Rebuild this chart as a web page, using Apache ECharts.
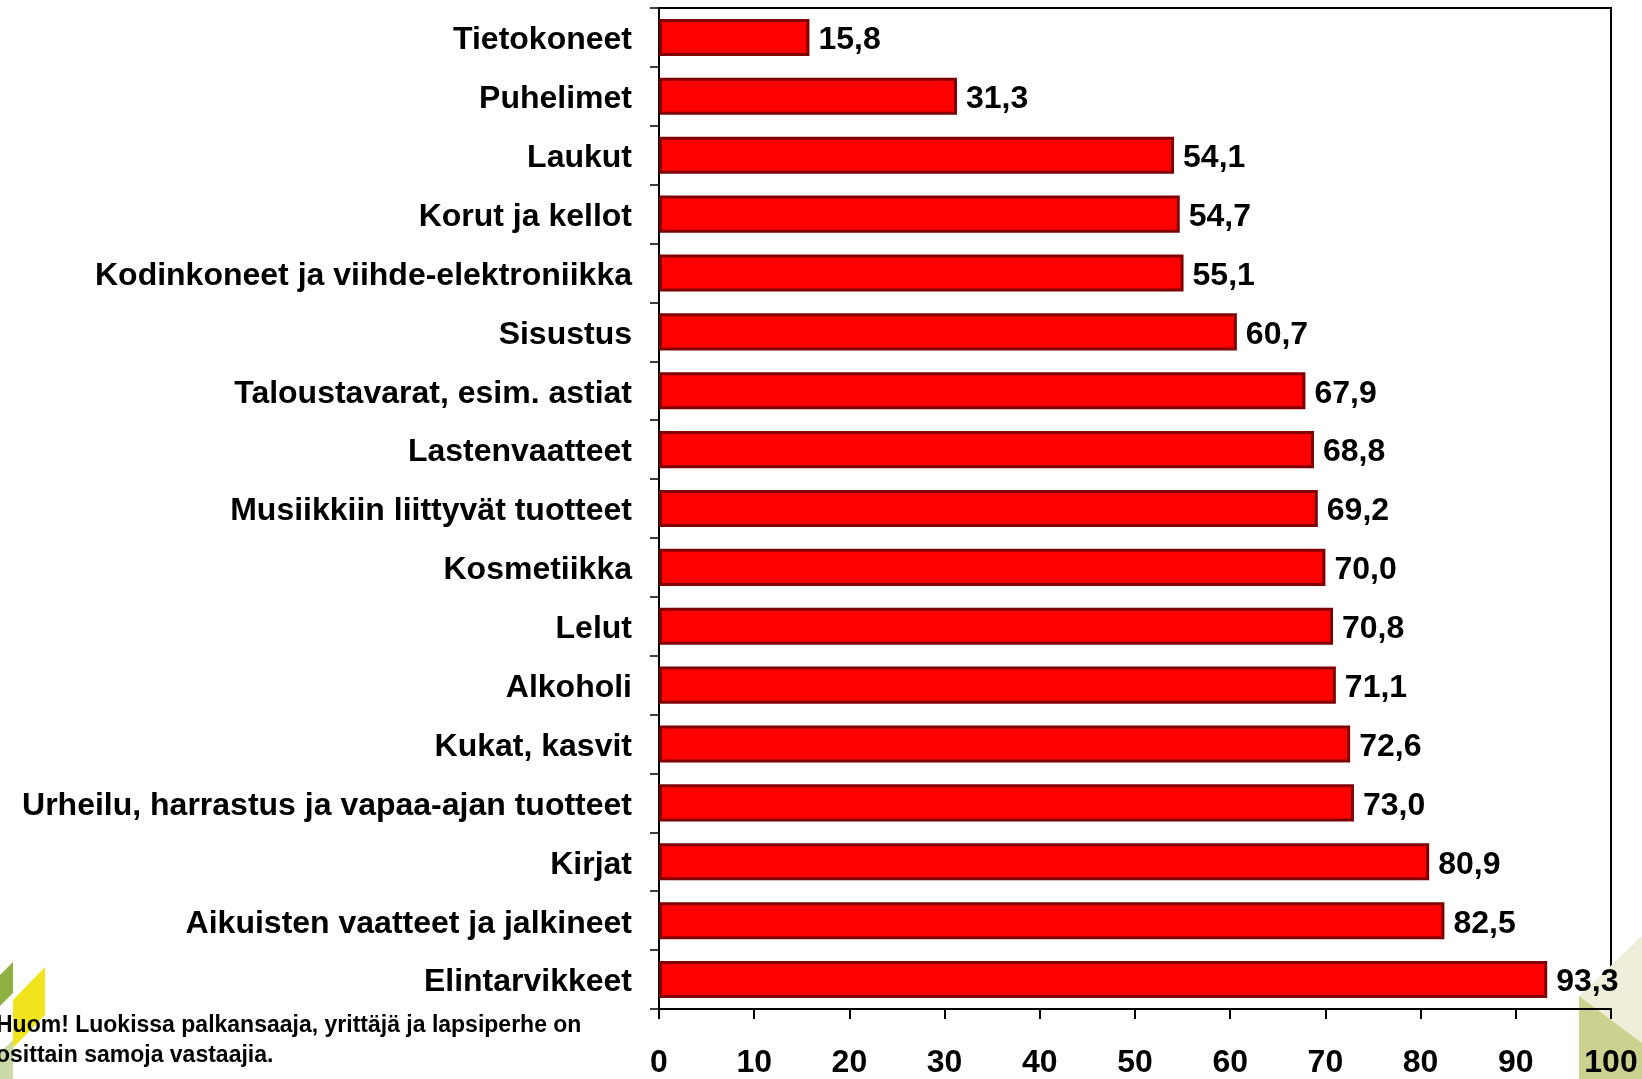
<!DOCTYPE html>
<html>
<head>
<meta charset="utf-8">
<title>Tuoteryhmät</title>
<script src="https://cdn.jsdelivr.net/npm/echarts@6/dist/echarts.min.js"></script>
<style>
    html, body { margin: 0; padding: 0; background: #ffffff; }
    #main { width: 1642px; height: 1079px; }
</style>
</head>
<body>
<div id="main"></div>
<script>
    // luokat ylhäältä alas
    var categories = ['Tietokoneet', 'Puhelimet', 'Laukut', 'Korut ja kellot',
        'Kodinkoneet ja viihde-elektroniikka', 'Sisustus', 'Taloustavarat, esim. astiat',
        'Lastenvaatteet', 'Musiikkiin liittyvät tuotteet', 'Kosmetiikka', 'Lelut',
        'Alkoholi', 'Kukat, kasvit', 'Urheilu, harrastus ja vapaa-ajan tuotteet',
        'Kirjat', 'Aikuisten vaatteet ja jalkineet', 'Elintarvikkeet'];
    // prosentit
    var values = [15.8, 31.3, 54.1, 54.7, 55.1, 60.7, 67.9, 68.8, 69.2, 70.0,
        70.8, 71.1, 72.6, 73.0, 80.9, 82.5, 93.3];
    var xTicks = [0, 10, 20, 30, 40, 50, 60, 70, 80, 90, 100];
    var noteLines = ['Huom! Luokissa palkansaaja, yrittäjä ja lapsiperhe on',
        'osittain samoja vastaajia.'];

    var font = '"Liberation Sans", Arial, sans-serif';
    // teksti hieman alemmas
    var richText = {
        v: {
            padding: [6, 0, 0, 0],
            color: '#000',
            fontFamily: font,
            fontWeight: 'bold',
            fontSize: 32
        }
    };

    var myChart = echarts.init(document.getElementById('main'));
    var option = {
        backgroundColor: '#ffffff',
        animation: false,
        grid: {
            left: 659, top: 8, right: 31, bottom: 67,
            show: true, borderColor: '#000', borderWidth: 2
        },
        xAxis: {
            type: 'value',
            min: xTicks[0],
            max: xTicks[xTicks.length - 1],
            interval: xTicks[1] - xTicks[0],
            splitLine: { show: false },
            axisLine: { show: true, lineStyle: { color: '#000', width: 2 } },
            axisTick: { show: true, inside: false, length: 10, lineStyle: { color: '#000', width: 2 } },
            axisLabel: {
                margin: 38,
                color: '#000',
                fontFamily: font,
                fontWeight: 'bold',
                fontSize: 32
            }
        },
        yAxis: {
            type: 'category',
            inverse: true,
            data: categories,
            axisLine: { show: true, lineStyle: { color: '#000', width: 2 } },
            axisTick: { show: true, length: 9, lineStyle: { color: '#000', width: 1.5 } },
            axisLabel: {
                margin: 27,
                formatter: function(v) { return '{v|' + v + '}'; },
                rich: richText
            }
        },
        series: [{
            type: 'bar',
            data: values,
            barCategoryGap: '37%',
            itemStyle: {
                color: '#ff0000',
                borderColor: '#800000',
                borderWidth: 3
            },
            label: {
                show: true,
                position: 'right',
                distance: 9,
                formatter: function(p) {
                    return '{v|' + p.value.toFixed(1).replace('.', ',') + '}';
                },
                rich: richText
            }
        }],
        graphic: [
            // logo vasen alakulma
            { type: 'polygon', z: 0, shape: { points: [[0, 975], [13, 962], [13, 993], [0, 1006]] }, style: { fill: '#8fb143' } },
            { type: 'polygon', z: 0, shape: { points: [[13, 1000], [45, 967], [45, 1015], [13, 1048]] }, style: { fill: '#f2e41c' } },
            { type: 'polygon', z: 0, shape: { points: [[0, 1052], [13, 1040], [13, 1079], [0, 1079]] }, style: { fill: '#cbd9a6' } },
            // logo oikea alakulma
            { type: 'polygon', z: 0, shape: { points: [[1579, 996], [1642, 936], [1642, 1043]] }, style: { fill: '#efefd9' } },
            { type: 'polygon', z: 0, shape: { points: [[1579, 996], [1642, 1043], [1642, 1079], [1579, 1079]] }, style: { fill: '#cdd18f' } },
            // huomautus
            {
                type: 'text', z: 10, left: -4, top: 1011,
                style: {
                    text: noteLines.join('\n'),
                    fill: '#000',
                    font: 'bold 23px ' + font,
                    lineHeight: 30
                }
            }
        ]
    };
    myChart.setOption(option);
</script>
</body>
</html>
